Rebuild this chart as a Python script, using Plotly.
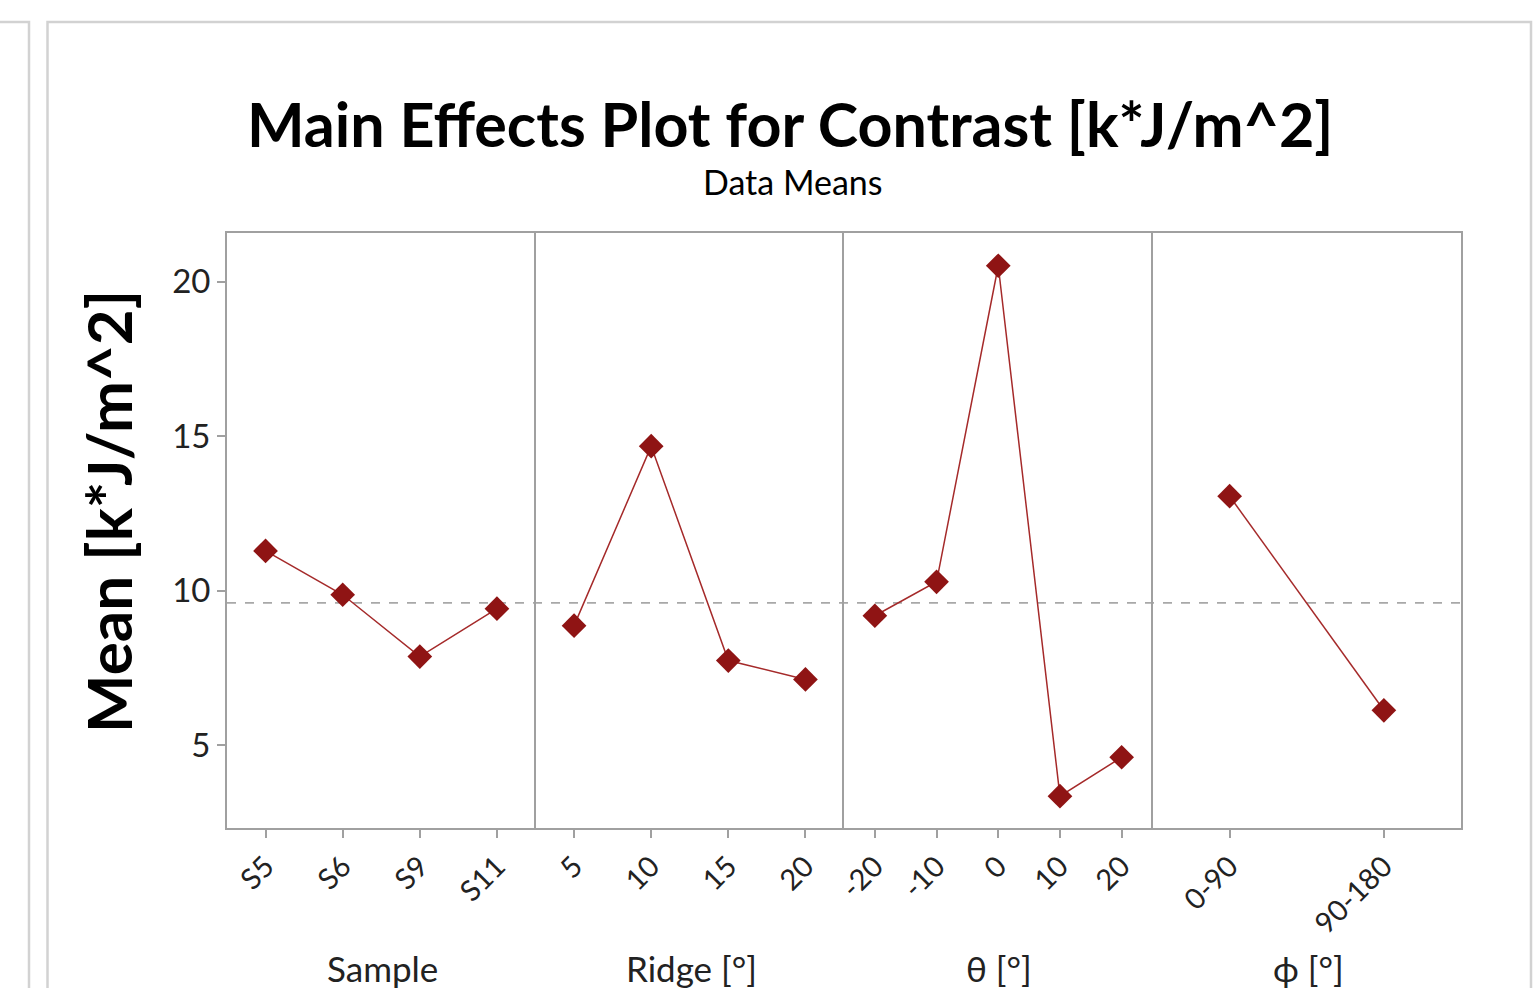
import plotly.graph_objects as go
from plotly.subplots import make_subplots

# ---- data ----
sample_levels = ["S5", "S6", "S9", "S11"]
sample_means = [11.29, 9.87, 7.87, 9.42]
ridge_levels = ["5", "10", "15", "20"]
ridge_means = [8.87, 14.68, 7.74, 7.13]
theta_levels = ["-20", "-10", "0", "10", "20"]
theta_means = [9.19, 10.29, 20.52, 3.35, 4.61]
phi_levels = ["0-90", "90-180"]
phi_means = [13.06, 6.13]
factor_names = ["Sample", "Ridge [°]", "θ [°]", "ϕ [°]"]
grand_mean = 9.61
y_ticks = [5, 10, 15, 20]

W, H = 1533, 988
L, R, T, B = 227, 1461, 233, 828

def px(x):
    return (x - L) / (R - L)

def py(y):
    return (B - y) / (B - T)

fig = make_subplots(rows=1, cols=4, shared_yaxes=True, horizontal_spacing=0)

groups = [(sample_levels, sample_means), (ridge_levels, ridge_means),
          (theta_levels, theta_means), (phi_levels, phi_means)]

line_col = "#a52a2a"
mark_col = "#8f1414"
axis_col = "#a0a0a0"
font_fam = "Lato, 'Open Sans', sans-serif"

for i, (lv, mv) in enumerate(groups):
    c = i + 1
    fig.add_trace(go.Scatter(x=list(range(len(lv))), y=mv, mode="lines+markers",
                             line=dict(color=line_col, width=1.5),
                             marker=dict(symbol="diamond", size=19, color=mark_col),
                             showlegend=False), row=1, col=c)
    fig.update_xaxes(range=[-0.5, len(lv) - 0.5], tickmode="array",
                     tickvals=list(range(len(lv))), ticktext=lv, tickangle=-45,
                     ticks="outside", ticklen=8, tickcolor=axis_col, tickwidth=1.5,
                     showline=True, linecolor=axis_col, linewidth=1.8, mirror=True,
                     showgrid=False, zeroline=False,
                     tickfont=dict(size=29, color="#222", family=font_fam),
                     row=1, col=c)

fig.update_yaxes(range=[2.32, 21.58], tickvals=y_ticks, ticks="outside", ticklen=8,
                 tickcolor=axis_col, tickwidth=1.5, showline=True, linecolor=axis_col,
                 linewidth=1.8, mirror=False, showgrid=False, zeroline=False,
                 tickfont=dict(size=33, color="#222", family=font_fam))
for c in (2, 3, 4):
    fig.update_yaxes(ticks="", row=1, col=c)
fig.update_yaxes(mirror=True, row=1, col=4)

shapes = [
    dict(type="line", xref="paper", yref="y", x0=0, x1=1, y0=grand_mean, y1=grand_mean,
         line=dict(color="#a8a8a8", width=1.8, dash="dash"), layer="below"),
    dict(type="rect", xref="paper", yref="paper", x0=px(-20), x1=px(29), y0=py(22), y1=py(1000),
         line=dict(color="#d2d2d2", width=2.5)),
    dict(type="rect", xref="paper", yref="paper", x0=px(47.5), x1=px(1531), y0=py(22), y1=py(1000),
         line=dict(color="#d2d2d2", width=2.5)),
]

annotations = [
    dict(text="<b>Main Effects Plot for Contrast [k*J/m^2]</b>", xref="paper", yref="paper",
         x=px(790), y=py(124), showarrow=False, xanchor="center", yanchor="middle",
         font=dict(size=61, color="#000", family=font_fam)),
    dict(text="Data Means", xref="paper", yref="paper", x=px(792), y=py(181),
         showarrow=False, xanchor="center", yanchor="middle",
         font=dict(size=34, color="#000", family=font_fam)),
    dict(text="<b>Mean [k*J/m^2]</b>", xref="paper", yref="paper", x=px(108), y=py(512),
         showarrow=False, textangle=-90, xanchor="center", yanchor="middle",
         font=dict(size=62, color="#000", family=font_fam)),
]
centers = [382, 691, 999, 1308]
for name, cx in zip(factor_names, centers):
    annotations.append(dict(text=name, xref="paper", yref="paper", x=px(cx), y=py(968),
                            showarrow=False, xanchor="center", yanchor="middle",
                            font=dict(size=35, color="#222", family=font_fam)))

fig.update_layout(width=W, height=H, autosize=False,
                  margin=dict(l=L, r=W - R, t=T, b=H - B, pad=0),
                  paper_bgcolor="white", plot_bgcolor="white",
                  shapes=shapes, annotations=annotations)

fig.write_html("out.html", config={"displayModeBar": False},
               post_script="document.body.style.margin='0';document.body.style.overflow='hidden';")
